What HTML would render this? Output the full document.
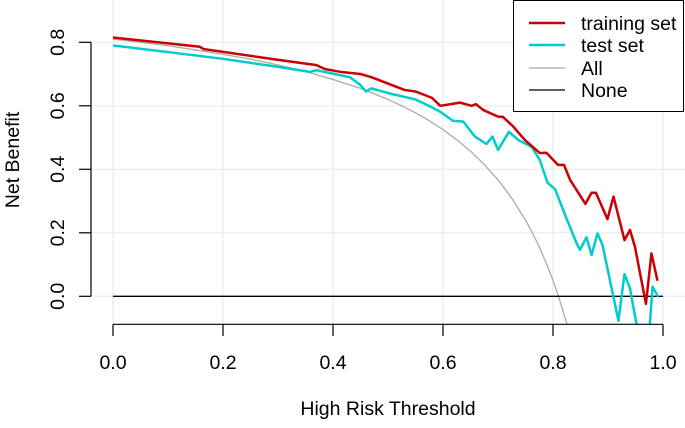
<!DOCTYPE html>
<html><head><meta charset="utf-8"><style>
body{margin:0;background:#fff}
svg text{font-family:"Liberation Sans",Arial,sans-serif;fill:#000}
</style></head><body>
<svg id="c" width="685" height="423" viewBox="0 0 685 423">
<defs><clipPath id="pc"><rect x="91" y="0" width="594" height="324.5"/></clipPath></defs>
<g id="grid"></g>
<g id="series" clip-path="url(#pc)"></g>
<g id="axes"></g>
<text x="388" y="415" font-size="19.5" text-anchor="middle">High Risk Threshold</text>
<text transform="translate(19,160) rotate(-90)" font-size="19.5" text-anchor="middle">Net Benefit</text>
<g>
<rect x="513.5" y="0.5" width="170" height="111" fill="#fff" stroke="#000" stroke-width="1"/>
<line x1="529" x2="565" y1="23" y2="23" stroke="#cc0000" stroke-width="2.5"/><text x="581" y="30" font-size="19.5">training set</text>
<line x1="529" x2="565" y1="45" y2="45" stroke="#00cccc" stroke-width="2.5"/><text x="581" y="52" font-size="19.5">test set</text>
<line x1="529" x2="565" y1="68" y2="68" stroke="#aaaaaa" stroke-width="1.3"/><text x="581" y="75" font-size="19.5">All</text>
<line x1="529" x2="565" y1="90" y2="90" stroke="#000" stroke-width="1.3"/><text x="581" y="97" font-size="19.5">None</text>
</g>
</svg>
<script>
const xTicks=[0,0.2,0.4,0.6,0.8,1.0];
const xTickLabels=["0.0","0.2","0.4","0.6","0.8","1.0"];
const yTicks=[0,0.2,0.4,0.6,0.8];
const yTickLabels=["0.0","0.2","0.4","0.6","0.8"];
const trainT=[0,0.158,0.164,0.291,0.37,0.385,0.413,0.45,0.47,0.5,0.53,0.55,0.58,0.595,0.631,0.652,0.66,0.673,0.70,0.709,0.727,0.749,0.776,0.788,0.809,0.82,0.831,0.859,0.870,0.878,0.899,0.910,0.93,0.94,0.949,0.969,0.979,0.99];
const trainV=[0.815,0.786,0.779,0.747,0.728,0.716,0.707,0.70,0.69,0.67,0.65,0.645,0.625,0.60,0.61,0.60,0.605,0.587,0.566,0.565,0.536,0.492,0.451,0.452,0.414,0.414,0.367,0.291,0.326,0.326,0.243,0.314,0.177,0.209,0.156,-0.024,0.135,0.049];
const testT=[0,0.2,0.291,0.358,0.37,0.431,0.45,0.46,0.47,0.5,0.55,0.58,0.595,0.618,0.637,0.658,0.679,0.690,0.70,0.72,0.737,0.761,0.776,0.790,0.804,0.822,0.843,0.849,0.861,0.870,0.881,0.89,0.919,0.93,0.94,0.952,0.965,0.976,0.981,0.991];
const testV=[0.790,0.748,0.725,0.707,0.712,0.690,0.665,0.645,0.655,0.64,0.62,0.595,0.581,0.553,0.55,0.503,0.48,0.503,0.461,0.518,0.492,0.471,0.429,0.358,0.337,0.256,0.167,0.146,0.186,0.130,0.198,0.162,-0.077,0.070,0.025,-0.09,-0.2,-0.09,0.030,-0.001];
const allT=[0,0.05,0.1,0.15,0.2,0.25,0.3,0.35,0.4,0.45,0.5,0.525,0.55,0.575,0.6,0.625,0.65,0.675,0.7,0.725,0.75,0.76,0.775,0.79,0.8,0.81,0.825,0.84];
const allV=[0.81,0.800,0.789,0.776,0.762,0.747,0.729,0.708,0.683,0.655,0.620,0.600,0.578,0.553,0.525,0.493,0.457,0.415,0.367,0.309,0.240,0.208,0.156,0.095,0.050,0.0,-0.086,-0.19];
const noneT=[0,1];
const noneV=[0,0];
const X=t=>113+550*t, Y=v=>296.3-317.5*v;
const NS="http://www.w3.org/2000/svg";
function mk(tag,attrs,parent){const e=document.createElementNS(NS,tag);for(const k in attrs)e.setAttribute(k,attrs[k]);parent.appendChild(e);return e;}
const grid=document.getElementById('grid'),axes=document.getElementById('axes'),series=document.getElementById('series');
xTicks.forEach((t,i)=>{
 const g=mk('line',{x1:X(t),x2:X(t),y1:0,y2:324,stroke:'#ebebeb','stroke-width':1.2},grid);
 
 
 const tk=mk('line',{x1:X(t),x2:X(t),y1:324.3,y2:336,stroke:'#000','stroke-width':1.2},axes);
 
 
 const lb=mk('text',{x:X(t),y:369,'font-size':19.5,'text-anchor':'middle'},axes);lb.textContent=xTickLabels[i];
 
 
});
yTicks.forEach((v,i)=>{
 const g=mk('line',{x1:91,x2:685,y1:Y(v),y2:Y(v),stroke:'#ebebeb','stroke-width':1.2},grid);
 
 
 const tk=mk('line',{x1:79,x2:91,y1:Y(v),y2:Y(v),stroke:'#000','stroke-width':1.2},axes);
 
 
 const lb=mk('text',{transform:`translate(64,${Y(v)}) rotate(-90)`,'font-size':19.5,'text-anchor':'middle'},axes);lb.textContent=yTickLabels[i];
 
 
});
const xa=mk('line',{x1:X(0),x2:X(1),y1:324.3,y2:324.3,stroke:'#000','stroke-width':1.2},axes);


const ya=mk('line',{x1:91,x2:91,y1:Y(0.8),y2:Y(0),stroke:'#000','stroke-width':1.2},axes);


function line(ts,vs,col,w,name){
 const p=mk('polyline',{points:ts.map((t,i)=>X(t)+','+Y(vs[i])).join(' '),fill:'none',stroke:col,'stroke-width':w,'stroke-linejoin':'round'},series);
 
 
}
line(allT,allV,'#aaaaaa',1.3,'all-line');
line(noneT,noneV,'#000',1.3,'none-line');
line(testT,testV,'#00cccc',2.5,'test-set-line');
line(trainT,trainV,'#cc0000',2.5,'training-set-line');
</script>
</body></html>
